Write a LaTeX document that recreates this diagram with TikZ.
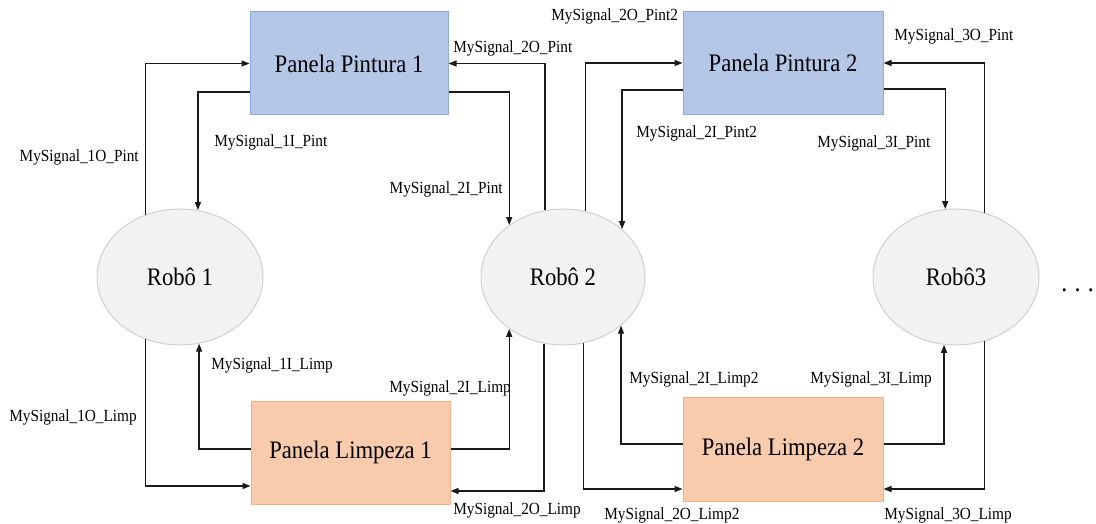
\documentclass[tikz,border=0pt]{standalone}
\usepackage{fontspec}
\setmainfont{Liberation Serif}[FakeStretch=0.9]
\usetikzlibrary{arrows.meta,calc,shapes.geometric}
\definecolor{pintfill}{HTML}{B4C7E7}
\definecolor{pintdraw}{HTML}{8FAADC}
\definecolor{limpfill}{HTML}{F8CBAD}
\definecolor{limpdraw}{HTML}{F4B183}
\definecolor{robfill}{HTML}{F2F2F2}
\definecolor{robdraw}{HTML}{D0D0D0}
\definecolor{linecol}{HTML}{1A1A1A}
\tikzset{
  panel/.style={rectangle, inner sep=0pt, line width=0.75pt, font=\fontsize{18.9}{22}\selectfont},
  pintbox/.style={panel, fill=pintfill, draw=pintdraw},
  limpbox/.style={panel, fill=limpfill, draw=limpdraw},
  robot/.style={ellipse, inner sep=0pt, fill=robfill, draw=robdraw, line width=0.75pt,
    minimum width=124.5pt, minimum height=102pt, font=\fontsize{18.9}{22}\selectfont},
  lbl/.style={inner sep=0pt, font=\fontsize{12.75}{14}\selectfont},
  arr/.style={draw=linecol, line width=1pt, -{Triangle[length=6pt,width=4.5pt]}},
}
\begin{document}
\begin{tikzpicture}[x=0.75pt,y=-0.75pt]
\useasboundingbox (0,0) rectangle (1096,524);
% panels
\node[pintbox, minimum width=148.5pt, minimum height=77.25pt] (pp1) at (349,63.5) {Panela Pintura 1};
\node[pintbox, minimum width=150pt, minimum height=77.25pt] (pp2) at (783,63) {Panela Pintura 2};
\node[limpbox, minimum width=149.25pt, minimum height=77.25pt] (pl1) at (350.5,452.5) {Panela Limpeza 1};
\node[limpbox, minimum width=150pt, minimum height=78pt] (pl2) at (783,449) {Panela Limpeza 2};
% robots
\node[robot] (r1) at (180,277) {Robô 1};
\node[robot, minimum width=123pt] (r2) at (563,277) {Robô 2};
\node[robot] (r3) at (956,277) {Robô3};
\node[inner sep=0pt, anchor=base west, font=\fontsize{20}{22}\selectfont] (dots) at (1061,291) {.\hspace{5.5pt}.\hspace{5.5pt}.};
% top connectors
\draw[arr] (r1.119.6) |- (pp1.west);
\draw[arr] ($(pp1.west)+(0,28.5)$) -| (r1.75.7);
\draw[arr] (r2.105.2) |- (pp1.east);
\draw[arr] ($(pp1.east)+(0,28.5)$) -| (r2.136.5);
\draw[arr] (r2.71.4) |- (pp2.west);
\draw[arr] ($(pp2.west)+(0,27)$) -| (r2.39.7);
\draw[arr] (r3.66.4) |- (pp2.east);
\draw[arr] ($(pp2.east)+(0,26)$) -| (r3.99.3);
% bottom connectors
\draw[arr] (r1.241.3) |- ($(pl1.west)+(0,33.5)$);
\draw[arr] ($(pl1.west)+(0,-3.5)$) -| (r1.286.9);
\draw[arr] ($(pl1.east)+(0,-3.5)$) -| (r2.224.4);
\draw[arr] (r2.254.8) |- ($(pl1.east)+(0,38.5)$);
\draw[arr] (r2.287.7) |- ($(pl2.west)+(0,40)$);
\draw[arr] ($(pl2.west)+(0,-5)$) -| (r2.320.3);
\draw[arr] ($(pl2.east)+(0,-5)$) -| (r3.260.7);
\draw[arr] (r3.294.5) |- ($(pl2.east)+(0,40)$);
% labels
\node[lbl, anchor=east] (l1op) at (139,157) {MySignal\_1O\_Pint};
\node[lbl, anchor=west] (l1ip) at (214,142) {MySignal\_1I\_Pint};
\node[lbl, anchor=west] (l2op) at (453,48) {MySignal\_2O\_Pint};
\node[lbl, anchor=east] (l2ip) at (503,189) {MySignal\_2I\_Pint};
\node[lbl, anchor=west] (l2op2) at (551,16) {MySignal\_2O\_Pint2};
\node[lbl, anchor=west] (l2ip2) at (636,133) {MySignal\_2I\_Pint2};
\node[lbl, anchor=west] (l3op) at (894,36) {MySignal\_3O\_Pint};
\node[lbl, anchor=west] (l3ip) at (817,143) {MySignal\_3I\_Pint};
\node[lbl, anchor=west] (l1ol) at (9,417) {MySignal\_1O\_Limp};
\node[lbl, anchor=west] (l1il) at (211,365) {MySignal\_1I\_Limp};
\node[lbl, anchor=west] (l2il) at (389,388) {MySignal\_2I\_Limp};
\node[lbl, anchor=west] (l2ol) at (453,510) {MySignal\_2O\_Limp};
\node[lbl, anchor=west] (l2ol2) at (604,515) {MySignal\_2O\_Limp2};
\node[lbl, anchor=west] (l2il2) at (629,379) {MySignal\_2I\_Limp2};
\node[lbl, anchor=west] (l3il) at (810,379) {MySignal\_3I\_Limp};
\node[lbl, anchor=west] (l3ol) at (884,515) {MySignal\_3O\_Limp};
\end{tikzpicture}
\end{document}
